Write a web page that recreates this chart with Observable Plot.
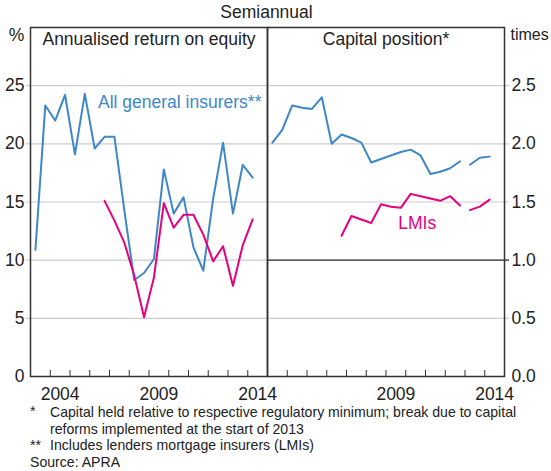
<!DOCTYPE html>
<html>
<head>
<meta charset="utf-8">
<script src="https://cdn.jsdelivr.net/npm/d3@7"></script>
<script src="https://cdn.jsdelivr.net/npm/@observablehq/plot@0.6"></script>
<style>
  body { margin: 0; background: #fff; font-family: Arial, "Liberation Sans", sans-serif; color: #222; }
  #wrap { position: relative; width: 551px; height: 471px; overflow: hidden; background: #fff; }
  #title { position: absolute; top: 2px; left: 0; width: 533px; text-align: center; font-size: 17.5px; line-height: 20px; }
  #left, #right { position: absolute; top: 0; }
  #left { left: 0; }
  #right { left: 267px; }
  .note { position: absolute; font-size: 14.1px; line-height: 16.5px; white-space: nowrap; }
</style>
</head>
<body>
<div id="wrap">
  <div id="title">Semiannual</div>
  <div id="left"></div>
  <div id="right"></div>
  <div class="note" style="left:30px; top:403px;">*</div>
  <div class="note" style="left:50px; top:404px;">Capital held relative to respective regulatory minimum; break due to capital<br>reforms implemented at the start of 2013</div>
  <div class="note" style="left:30px; top:437px;">**</div>
  <div class="note" style="left:50px; top:437px;">Includes lenders mortgage insurers (LMIs)</div>
  <div class="note" style="left:30px; top:454px;">Source: APRA</div>
</div>
<script>
// ---- Data (semiannual periods, plotted at period mid-points) ----
const periods = ["2003H1","2003H2","2004H1","2004H2","2005H1","2005H2","2006H1","2006H2",
  "2007H1","2007H2","2008H1","2008H2","2009H1","2009H2","2010H1","2010H2","2011H1","2011H2",
  "2012H1","2012H2","2013H1","2013H2","2014H1"];

// Annualised return on equity, % (2003H1–2014H1)
const roeAll = [10.9, 23.3, 22.0, 24.2, 19.1, 24.3, 19.6, 20.6, 20.6, 14.3, 8.3, 8.9,
  10.1, 17.8, 14.0, 15.4, 11.1, 9.1, 15.3, 20.1, 14.0, 18.2, 17.1];
// LMIs return on equity, % (2006H2–2014H1)
const roeLmiStart = "2006H2";
const roeLmi = [15.1, 13.4, 11.5, 8.7, 5.1, 8.5, 14.9, 12.8, 13.9, 13.9, 12.2, 9.9, 11.2, 7.8, 11.3, 13.5];

// Capital position, times (break at start of 2013)
const capAllPre = [2.01, 2.12, 2.33, 2.31, 2.30, 2.40, 2.00, 2.08, 2.05, 2.01, 1.84, 1.87,
  1.90, 1.93, 1.95, 1.90, 1.74, 1.76, 1.79, 1.85];           // 2003H1–2012H2
const capAllPost = [1.82, 1.88, 1.89];                        // 2013H1–2014H1
const capLmiPreStart = "2006H2";
const capLmiPre = [1.21, 1.38, 1.35, 1.32, 1.48, 1.46, 1.45, 1.57, 1.55, 1.53, 1.51, 1.55, 1.47]; // 2006H2–2012H2
const capLmiPost = [1.43, 1.46, 1.52];                        // 2013H1–2014H1

const leftTicks = [0, 5, 10, 15, 20, 25];
const rightTicks = [0, 0.5, 1.0, 1.5, 2.0, 2.5];
const yearLabelsLeft = [2004, 2009, 2014];
const yearLabelsRight = [2009, 2014];
const xDomain = [2003, 2015];

// ---- helpers ----
const toYear = p => +p.slice(0, 4) + (p.endsWith("H1") ? 0.25 : 0.75);
function seriesRows(values, startPeriod, series, seg) {
  const i0 = periods.indexOf(startPeriod);
  return values.map((v, i) => ({t: toYear(periods[i0 + i]), v, series, seg}));
}
const BLUE = "#3d87c9", PINK = "#e6007e", GRID = "#cccccc", FRAME = "#333";
const FONT = 'Arial, "Liberation Sans", sans-serif';
const yearBounds = d3.range(xDomain[0] + 1, xDomain[1]);

const leftRows = [
  ...seriesRows(roeAll, "2003H1", "all", "a"),
  ...seriesRows(roeLmi, roeLmiStart, "lmi", "b")
];
const rightRows = [
  ...seriesRows(capAllPre, "2003H1", "all", "a1"),
  ...seriesRows(capAllPost, "2013H1", "all", "a2"),
  ...seriesRows(capLmiPre, capLmiPreStart, "lmi", "b1"),
  ...seriesRows(capLmiPost, "2013H1", "lmi", "b2")
];

const common = {
  height: 404, marginTop: 27, marginBottom: 28,
  x: {domain: xDomain, axis: null},
  color: {domain: ["all", "lmi"], range: [BLUE, PINK]},
  style: {fontFamily: FONT, fontSize: "17.5px", color: "#222", overflow: "visible", background: "transparent"}
};

const left = Plot.plot({
  ...common,
  width: 267, marginLeft: 30, marginRight: 0,
  y: {domain: [0, 30], axis: null},
  marks: [
    Plot.ruleY(leftTicks.filter(d => d > 0), {stroke: GRID, strokeWidth: 1.2, insetLeft: -4}),
    Plot.ruleX(yearBounds, {y1: 0, y2: 0, insetTop: -6, stroke: FRAME, strokeWidth: 1}),
    Plot.line(leftRows, {x: "t", y: "v", z: "seg", stroke: "series", strokeWidth: 2, curve: "linear"}),
    Plot.frame({stroke: FRAME, strokeWidth: 1.5}),
    Plot.text(leftTicks, {x: xDomain[0], y: d => d, text: d => String(d), textAnchor: "end", dx: -6, fill: "#222"}),
    Plot.text(yearLabelsLeft, {x: d => d + 0.5, y: 0, text: d => String(d), dy: 18, fill: "#222"}),
    Plot.text(["Annualised return on equity"], {frameAnchor: "top", dy: 5, fill: "#222"}),
    Plot.text(["%"], {frameAnchor: "top-left", textAnchor: "middle", dx: -14, dy: 1, fill: "#222"}),
    Plot.text(["All general insurers**"], {x: 2006.42, y: 23.6, textAnchor: "start", fill: BLUE})
  ]
});

const right = Plot.plot({
  ...common,
  width: 284, marginLeft: 0, marginRight: 47,
  y: {domain: [0, 3], axis: null},
  marks: [
    Plot.ruleY(rightTicks.filter(d => d > 0 && d !== 1), {stroke: GRID, strokeWidth: 1.2, insetRight: -5}),
    Plot.ruleY([1], {stroke: "#222", strokeWidth: 1.2, insetRight: -5}),
    Plot.ruleX(yearBounds, {y1: 0, y2: 0, insetTop: -6, stroke: FRAME, strokeWidth: 1}),
    Plot.line(rightRows, {x: "t", y: "v", z: "seg", stroke: "series", strokeWidth: 2, curve: "linear"}),
    Plot.frame({stroke: FRAME, strokeWidth: 1.5}),
    Plot.text(rightTicks, {x: xDomain[1], y: d => d, text: d => d.toFixed(1), textAnchor: "start", dx: 7, fill: "#222"}),
    Plot.text(yearLabelsRight, {x: d => d + 0.5, y: 0, text: d => String(d), dy: 18, fill: "#222"}),
    Plot.text(["Capital position*"], {frameAnchor: "top", dy: 5, fill: "#222"}),
    Plot.text(["times"], {frameAnchor: "top-right", textAnchor: "start", dx: 6, dy: 1, fontSize: 16, fill: "#222"}),
    Plot.text(["LMIs"], {x: 2009.62, y: 1.32, textAnchor: "start", fill: PINK})
  ]
});

document.getElementById("left").appendChild(left);
document.getElementById("right").appendChild(right);
</script>
</body>
</html>
